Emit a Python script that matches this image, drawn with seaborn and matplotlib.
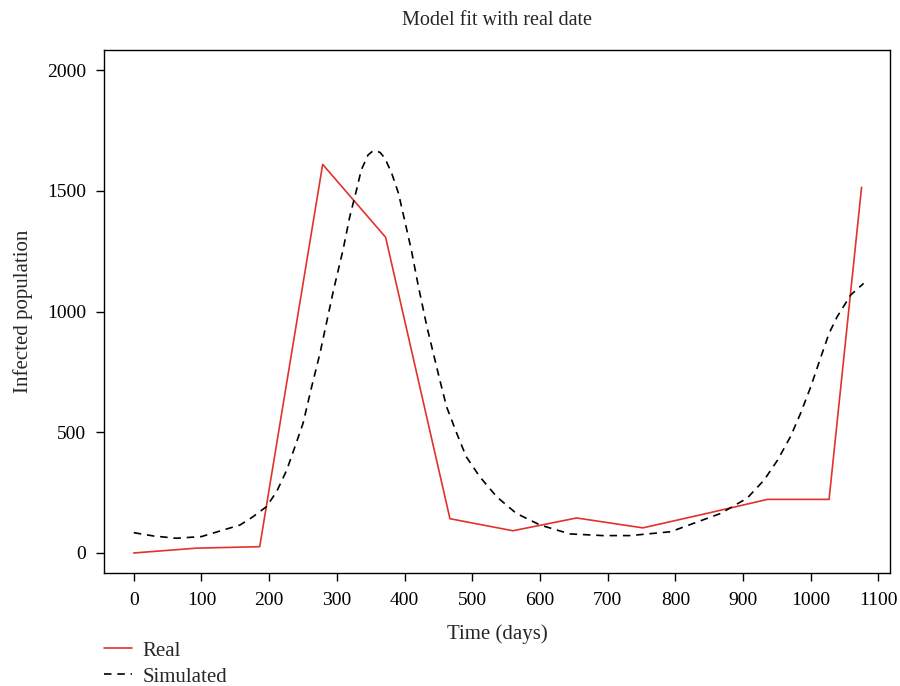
import matplotlib
matplotlib.use("Agg")
import matplotlib.pyplot as plt
import seaborn as sns
import pandas as pd

# Real (observed) data
real_days = [0, 93, 186, 279, 372, 467, 560, 654, 752, 845, 936, 1027, 1075]
real_values = [0, 20, 26, 1610, 1308, 142, 92, 145, 104, 163, 222, 222, 1515]

# Simulated model curve
sim_days = [0, 30, 63, 100, 157, 176, 196, 211, 226, 238, 250, 262, 275, 295, 309,
            319, 329, 336, 346, 352, 358, 364, 371, 381, 391, 400, 410, 420, 433, 452, 462,
            477, 491, 511, 536, 565, 600, 644, 693, 733, 793, 867, 906, 931, 951,
            970, 985, 1000, 1015, 1027, 1039, 1059, 1078]
sim_values = [84, 70, 61, 68, 116, 150, 192, 254, 344, 440, 537, 680, 827, 1089, 1255,
              1393, 1504, 1587, 1649, 1663, 1667, 1659, 1635, 1573, 1490, 1379, 1255, 1110, 937, 717, 606,
              496, 399, 316, 233, 164, 116, 79, 72, 72, 88, 164, 227, 302, 385,
              482, 579, 689, 813, 910, 979, 1069, 1117]

x_ticks = [0, 100, 200, 300, 400, 500, 600, 700, 800, 900, 1000, 1100]
y_ticks = [0, 500, 1000, 1500, 2000]

sns.set_theme(style="ticks")
plt.rcParams["font.family"] = ["Liberation Serif", "DejaVu Serif"]

df_real = pd.DataFrame({"day": real_days, "value": real_values})
df_sim = pd.DataFrame({"day": sim_days, "value": sim_values})

fig = plt.figure(figsize=(9, 6.86), dpi=100)
ax = fig.add_axes([104 / 900, 1 - 573 / 686, (890 - 104) / 900, (573 - 50) / 686])

sns.lineplot(data=df_real, x="day", y="value", ax=ax, color="#e3322a",
             linewidth=1.2, label="Real", estimator=None, sort=False)
sns.lineplot(data=df_sim, x="day", y="value", ax=ax, color="black",
             linewidth=1.2, label="Simulated", estimator=None, sort=False)
ax.lines[1].set_dashes((4.5, 3.5))

ax.set_xlim(-44, 1117)
ax.set_ylim(-83, 2084)
ax.set_xticks(x_ticks)
ax.set_yticks(y_ticks)
ax.tick_params(axis="both", direction="out", length=6, width=1, labelsize=14,
               colors="black")
ax.tick_params(axis="x", pad=8)
ax.tick_params(axis="y", pad=7)
for s in ax.spines.values():
    s.set_linewidth(1.0)
    s.set_color("black")

ax.set_xlabel("Time (days)", fontsize=15, labelpad=11)
ax.set_ylabel("Infected population", fontsize=15, labelpad=10)
ax.set_title("Model fit with real date", fontsize=14.5, pad=18)

handles, labels = ax.get_legend_handles_labels()
ax.get_legend().remove()
handles[1].set_dashes((4.5, 3.5))
fig.legend(handles, labels, loc="upper left", bbox_to_anchor=(102 / 900, 1 - 639 / 686),
           frameon=False, fontsize=15, handlelength=1.35, handletextpad=0.5,
           labelspacing=0.3, borderpad=0.1, borderaxespad=0)

fig.savefig("out.png", dpi=100)
